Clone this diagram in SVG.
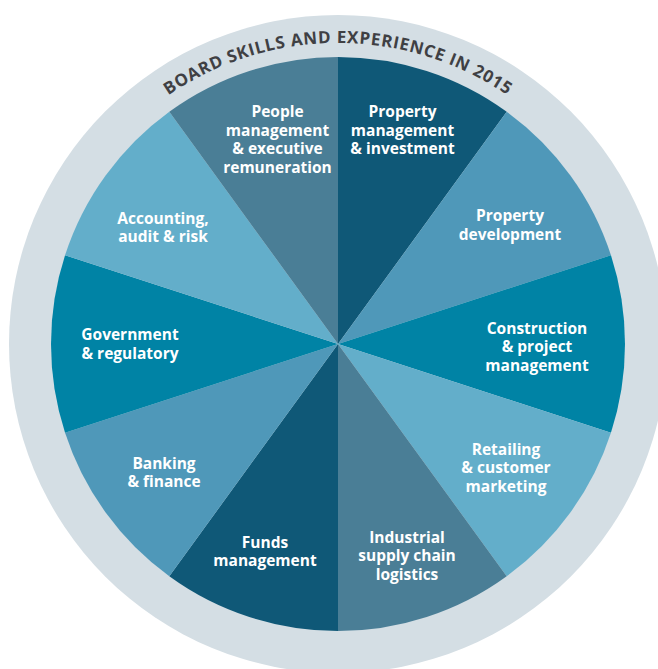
<svg xmlns="http://www.w3.org/2000/svg" width="658" height="669" viewBox="0 0 658 669">
  <style>
    .lbl { font-family: "Open Sans", "Liberation Sans", sans-serif; font-weight: 700; font-size: 15.5px; fill: #ffffff; text-anchor: middle; }
    .title { font-family: "Open Sans", "Liberation Sans", sans-serif; font-weight: 700; font-size: 17px; fill: #3f4043; letter-spacing: 0.7px; }
    .c1 { fill: #0f5877; }
    .c2 { fill: #4f98b9; }
    .c3 { fill: #0083a5; }
    .c4 { fill: #63aeca; }
    .c5 { fill: #4a7e96; }
  </style>
  <defs>
    <path id="titleArc" d="M144.5 113.4 A301 301 0 0 1 531.5 113.4" fill="none"/>
  </defs>

  <rect width="658" height="669" fill="#ffffff"/>

  <!-- outer ring -->
  <g id="ring">
    <circle cx="338" cy="344" r="329" fill="#d4dee4"/>
    <text class="title"><textPath href="#titleArc" startOffset="50%" text-anchor="middle">BOARD SKILLS AND EXPERIENCE IN 2015</textPath></text>
  </g>

  <!-- wedges, clockwise from the top -->
  <g id="property-management">
    <path class="c1" d="M338 344 L338 57 A287 287 0 0 1 506.694 111.812 Z"/>
    <text class="lbl"><tspan x="402.5" y="117">Property</tspan><tspan x="402.5" y="135.5">management</tspan><tspan x="402.5" y="154">&amp; investment</tspan></text>
  </g>
  <g id="property-development">
    <path class="c2" d="M338 344 L506.694 111.812 A287 287 0 0 1 610.953 255.312 Z"/>
    <text class="lbl"><tspan x="510" y="221">Property</tspan><tspan x="510" y="239.5">development</tspan></text>
  </g>
  <g id="construction">
    <path class="c3" d="M338 344 L610.953 255.312 A287 287 0 0 1 610.953 432.688 Z"/>
    <text class="lbl"><tspan x="537" y="334">Construction</tspan><tspan x="537" y="352">&amp; project</tspan><tspan x="537" y="370.5">management</tspan></text>
  </g>
  <g id="retailing">
    <path class="c4" d="M338 344 L610.953 432.688 A287 287 0 0 1 506.694 576.188 Z"/>
    <text class="lbl"><tspan x="506" y="455">Retailing</tspan><tspan x="506" y="473">&amp; customer</tspan><tspan x="506" y="491.5">marketing</tspan></text>
  </g>
  <g id="industrial">
    <path class="c5" d="M338 344 L506.694 576.188 A287 287 0 0 1 338 631 Z"/>
    <text class="lbl"><tspan x="407" y="543">Industrial</tspan><tspan x="407" y="561">supply chain</tspan><tspan x="407" y="579.5">logistics</tspan></text>
  </g>
  <g id="funds-management">
    <path class="c1" d="M338 344 L338 631 A287 287 0 0 1 169.306 576.188 Z"/>
    <text class="lbl"><tspan x="265" y="548">Funds</tspan><tspan x="265" y="566">management</tspan></text>
  </g>
  <g id="banking">
    <path class="c2" d="M338 344 L169.306 576.188 A287 287 0 0 1 65.047 432.688 Z"/>
    <text class="lbl"><tspan x="164" y="469">Banking</tspan><tspan x="164" y="487">&amp; finance</tspan></text>
  </g>
  <g id="government">
    <path class="c3" d="M338 344 L65.047 432.688 A287 287 0 0 1 65.047 255.312 Z"/>
    <text class="lbl"><tspan x="130" y="340">Government</tspan><tspan x="130" y="358.5">&amp; regulatory</tspan></text>
  </g>
  <g id="accounting">
    <path class="c4" d="M338 344 L65.047 255.312 A287 287 0 0 1 169.306 111.812 Z"/>
    <text class="lbl"><tspan x="163" y="224">Accounting,</tspan><tspan x="163" y="242">audit &amp; risk</tspan></text>
  </g>
  <g id="people-management">
    <path class="c5" d="M338 344 L169.306 111.812 A287 287 0 0 1 338 57 Z"/>
    <text class="lbl"><tspan x="277.5" y="117">People</tspan><tspan x="277.5" y="135.5">management</tspan><tspan x="277.5" y="154">&amp; executive</tspan><tspan x="277.5" y="172.5">remuneration</tspan></text>
  </g>
</svg>
